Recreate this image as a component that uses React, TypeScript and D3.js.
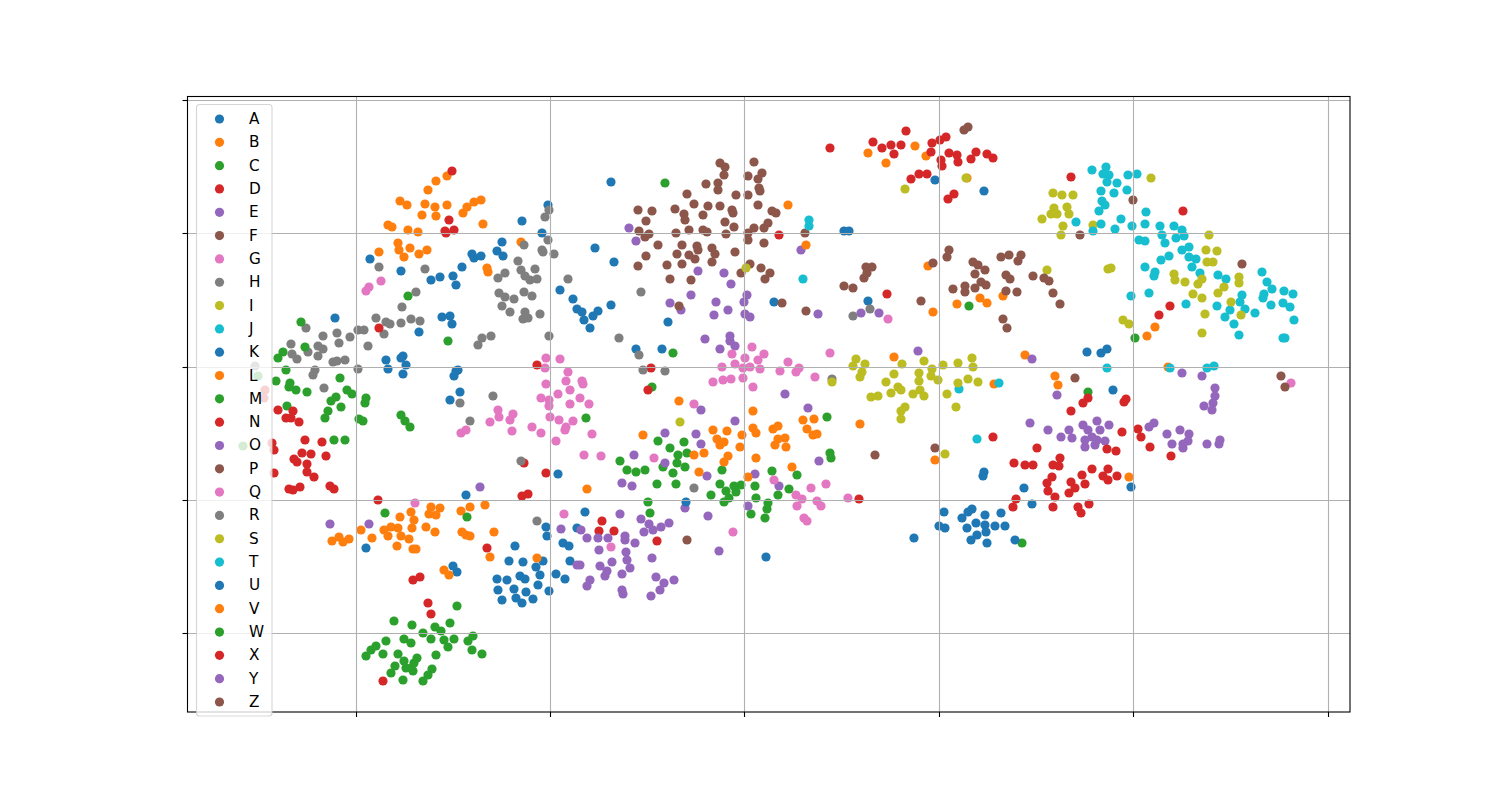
import React from "react";
import * as d3 from "d3";

const A = [[370,259],[401,271],[431,280],[440,277],[453,276],[456,285],[462,267],[472,254],[474,258],[481,256],[497,251],[503,256],[502,242],[522,221],[542,233],[548,205],[560,290],[573,299],[577,309],[582,312],[335,318],[442,317],[450,316],[452,324],[419,332],[611,182],[595,248],[614,262],[611,305],[598,311],[593,316],[584,320],[590,328],[668,322],[774,302],[844,231],[849,231],[868,301],[935,180],[984,191],[636,349],[662,349]];
const B = [[447,176],[436,181],[428,190],[400,201],[407,205],[425,204],[435,207],[447,205],[422,215],[436,216],[467,207],[463,213],[474,202],[481,200],[388,225],[392,227],[408,230],[418,232],[483,224],[398,243],[399,250],[410,248],[427,250],[419,254],[404,257],[379,252],[521,242],[487,268],[488,272],[868,153],[915,146],[886,163],[926,156],[967,178]];
const C = [[658,441],[670,448],[684,442],[678,455],[687,453],[677,463],[685,467],[663,467],[620,461],[627,470],[636,472],[645,470],[673,473],[657,484],[676,484],[827,417],[830,453],[831,458],[722,470],[772,471],[797,475],[720,484],[755,486],[734,486],[741,485],[711,495],[726,491],[736,492],[789,489],[778,495],[756,498],[729,498],[724,502],[648,502],[650,513],[768,503],[767,509],[751,514],[765,518],[586,418],[652,387],[673,353],[969,306],[1135,338],[1088,392],[1022,543],[665,183]];
const D = [[830,148],[873,142],[882,148],[891,145],[901,145],[894,154],[906,131],[932,143],[940,140],[946,137],[931,152],[949,153],[957,155],[941,160],[942,166],[958,162],[971,159],[976,152],[987,154],[993,158],[911,179],[919,174],[927,174],[954,194],[948,199],[779,235],[887,294],[452,171],[449,220],[445,231],[446,233],[454,230],[1071,177],[1183,211],[1170,306],[1159,315]];
const E = [[629,228],[636,241],[801,250],[698,271],[724,273],[731,284],[691,295],[747,295],[670,303],[681,310],[716,302],[744,302],[728,310],[714,315],[745,314],[750,317],[818,314],[861,313],[879,313],[705,339],[730,336],[730,341],[735,346],[720,349],[918,351],[785,394],[701,410],[808,408],[735,421],[665,433],[696,434],[701,444],[634,455],[665,463],[819,461],[755,474],[707,476],[622,483],[632,486],[685,508],[748,506],[620,514],[708,516],[641,519]];
const F = [[720,163],[725,167],[724,175],[754,162],[762,173],[748,176],[758,179],[706,184],[718,183],[718,190],[759,188],[760,191],[687,194],[736,195],[748,195],[694,204],[708,206],[720,206],[758,205],[638,210],[652,211],[675,209],[684,214],[685,220],[703,215],[732,210],[733,213],[772,211],[776,213],[646,221],[725,222],[768,223],[764,228],[734,227],[754,228],[689,230],[703,230],[707,232],[639,231],[649,234],[645,237],[676,233],[726,234],[748,233],[748,240],[805,233],[658,245],[682,245],[697,246],[698,250],[712,248],[764,243],[646,256],[677,254],[689,255],[695,259],[715,254],[735,252],[712,262],[638,266],[667,265],[682,264],[750,264],[761,268],[741,273],[770,273],[765,279],[670,279],[691,280],[679,306]];
const G = [[381,281],[369,287],[366,291],[498,410],[499,417],[513,414],[510,420],[490,422],[512,431],[466,430],[461,433],[415,503],[564,514],[546,358],[560,359],[545,368],[568,372],[566,381],[546,384],[582,381],[583,384],[570,390],[558,394],[541,398],[549,400],[549,406],[570,404],[580,398],[589,404],[550,417],[559,420],[573,421],[566,427],[565,430],[532,427],[541,433],[556,441],[584,455],[592,434],[601,456],[611,547],[654,458]];
const H = [[379,267],[425,269],[416,292],[402,307],[376,318],[386,322],[390,324],[401,323],[411,319],[420,321],[323,336],[337,333],[306,328],[350,337],[358,330],[364,330],[384,334],[339,343],[368,346],[291,344],[318,346],[323,349],[308,352],[292,354],[297,359],[318,356],[333,362],[337,361],[345,360],[358,369],[315,370],[313,375],[324,388],[255,366]];
const I = [[1053,193],[1062,195],[1073,195],[1054,208],[1067,207],[1051,214],[1057,214],[1069,214],[1042,219],[1063,226],[1093,225],[1061,235],[1047,270],[1108,269],[1111,268],[1151,178],[905,189],[966,178],[1123,320],[1129,324]];
const J = [[1092,170],[1106,167],[1103,174],[1109,175],[1128,175],[1137,174],[1107,182],[1117,183],[1101,191],[1114,193],[1127,190],[1102,201],[1105,205],[1099,211],[1146,212],[1076,222],[1101,224],[1121,219],[1093,231],[1115,229],[1132,226],[1145,224],[1160,226],[1174,226],[1182,230],[1162,235],[1176,238],[1184,236],[1139,240],[1145,241],[1165,243],[1182,250],[1189,247],[1189,257],[1196,259],[1169,256],[1161,260],[1192,267],[1145,267],[1155,272],[1154,276],[1200,273],[1218,275],[1226,279],[1262,272],[1267,282],[1272,289],[1264,294],[1263,298],[1284,291],[1293,294],[1242,295],[1240,302],[1283,303],[1271,305],[1290,307],[1245,309],[1217,306],[1186,304],[1149,293],[1131,296],[1230,310],[1225,317],[1255,313],[1234,324],[1294,320],[1239,335],[1283,338],[1285,338],[959,389]];
const K = [[914,538],[944,512],[962,518],[968,512],[972,509],[939,526],[945,528],[976,523],[967,528],[977,535],[971,540],[985,515],[1001,513],[985,525],[995,526],[1005,526],[986,532],[987,543],[1015,540],[984,472],[983,476],[1024,488],[1032,504],[1131,487],[1087,352],[1101,353],[1107,349],[1113,390],[766,557],[386,360],[388,369],[403,356],[401,358],[406,365],[403,374],[458,370],[456,371],[454,376],[460,392],[450,400],[558,474],[466,495]];
const L = [[894,357],[679,401],[753,411],[803,420],[814,419],[713,430],[727,431],[753,428],[756,433],[773,429],[778,426],[807,429],[813,435],[817,434],[860,424],[643,435],[742,435],[717,439],[724,442],[720,445],[778,439],[785,438],[775,445],[786,447],[740,447],[704,453],[694,455],[728,456],[724,462],[756,458],[792,467],[699,472],[748,477],[587,489],[935,460],[788,205],[806,245],[928,266],[933,312],[957,304],[980,298],[987,303],[1003,296],[1025,355],[994,384],[1055,376],[1058,385],[1168,367],[1155,327],[1147,336],[1129,477]];
const M = [[301,322],[305,347],[283,352],[278,358],[286,370],[276,381],[290,383],[289,387],[296,390],[307,392],[340,378],[347,390],[352,394],[366,398],[365,403],[336,397],[331,401],[341,407],[287,406],[328,411],[325,418],[359,419],[363,421],[401,415],[405,421],[410,427],[334,440],[345,440],[448,341],[408,296],[258,376],[243,446]];
const N = [[379,328],[278,410],[293,411],[286,418],[291,418],[299,422],[305,440],[322,442],[302,453],[311,454],[326,456],[294,459],[297,462],[307,464],[307,472],[314,477],[289,489],[293,490],[300,487],[330,486],[334,489],[537,365],[524,463],[546,473],[522,496],[528,494],[378,500],[274,450],[265,390],[264,398],[272,443],[274,473],[651,368],[648,390],[859,499]];
const O = [[1032,359],[1057,395],[1182,373],[1202,376],[1215,388],[1215,396],[1213,403],[1204,406],[1212,410],[1030,423],[1048,430],[1069,430],[1061,437],[1072,438],[1083,425],[1088,430],[1097,421],[1109,425],[1100,430],[1085,440],[1092,437],[1097,440],[1105,441],[1085,447],[1095,445],[1154,423],[1149,427],[1167,434],[1180,430],[1189,434],[1188,441],[1183,444],[1172,444],[1183,448],[1207,444],[1220,440],[1219,444],[779,486]];
const P = [[866,267],[872,267],[867,273],[864,278],[921,301],[933,263],[947,257],[949,250],[973,262],[978,265],[985,270],[975,274],[953,289],[965,286],[965,292],[975,288],[981,282],[986,285],[1001,257],[1009,255],[1021,255],[1018,261],[1006,275],[1010,279],[1033,276],[1044,278],[1049,281],[1006,291],[1017,292],[1053,293],[1060,304],[1003,319],[1007,328]];
const Q = [[752,347],[830,353],[732,354],[764,354],[745,358],[758,360],[735,364],[722,367],[743,368],[750,367],[760,369],[788,362],[780,371],[799,368],[796,372],[713,382],[723,380],[731,379],[743,378],[815,377],[753,387],[694,404],[774,480],[811,488],[826,484],[796,495],[802,499],[817,501],[821,506],[797,506],[848,498],[804,518],[807,521],[733,532],[888,319],[1291,383]];
const R = [[549,210],[545,217],[548,240],[542,250],[543,252],[554,254],[524,245],[518,261],[521,270],[535,269],[505,273],[498,278],[525,276],[530,280],[537,279],[568,279],[499,293],[505,297],[514,299],[524,292],[532,296],[502,306],[510,312],[525,312],[540,314],[523,319],[528,318],[482,338],[491,336],[478,345],[549,336],[493,396],[460,403],[470,421],[521,461],[537,521],[641,292],[619,338],[853,316],[870,309],[639,355],[643,370],[665,371],[832,379],[694,488]];
const S = [[856,359],[865,364],[853,366],[862,372],[860,377],[902,364],[924,361],[943,365],[958,363],[972,358],[973,367],[894,374],[919,373],[932,369],[931,376],[938,380],[919,381],[886,382],[958,383],[968,379],[978,382],[832,382],[898,387],[901,390],[891,393],[920,390],[913,394],[924,396],[947,394],[871,397],[878,396],[905,407],[901,411],[956,407],[901,419],[680,422],[945,454],[746,268],[1209,235],[1206,250],[1217,251],[1207,262],[1213,262],[1174,274],[1175,280],[1185,282],[1198,284],[1202,279],[1239,277],[1239,283],[1224,287],[1218,293],[1193,294],[1202,298],[1231,302],[1241,315],[1205,314],[1202,333]];
const T = [[809,220],[809,226],[803,279],[999,383],[977,439],[1107,368],[1170,368],[1207,368],[1214,366]];
const U = [[546,527],[547,536],[577,528],[585,512],[515,546],[563,543],[569,546],[509,561],[523,562],[543,561],[536,567],[570,561],[540,575],[520,576],[525,579],[497,579],[507,580],[556,574],[565,579],[538,585],[498,590],[514,589],[526,592],[549,591],[516,598],[502,600],[533,599],[522,603],[686,502],[366,548],[453,566],[457,572]];
const V = [[411,512],[431,507],[440,508],[429,514],[436,515],[461,511],[470,507],[485,505],[400,517],[414,520],[412,528],[426,527],[398,528],[391,527],[361,530],[384,530],[388,536],[401,536],[409,539],[435,532],[462,532],[466,535],[470,536],[494,532],[372,538],[339,537],[332,541],[343,542],[349,539],[397,546],[413,549],[416,549],[490,557],[537,558],[444,570],[449,575]];
const W = [[467,517],[385,513],[457,606],[394,621],[412,625],[435,627],[441,631],[450,623],[423,633],[386,641],[404,639],[411,643],[431,639],[444,640],[454,639],[448,647],[473,636],[468,641],[472,650],[482,654],[376,646],[371,650],[366,656],[383,654],[398,654],[436,655],[417,658],[404,661],[414,663],[395,666],[406,668],[411,668],[413,671],[432,669],[428,675],[391,673],[403,680],[423,681]];
const X = [[993,437],[1088,398],[1083,403],[1071,411],[1126,399],[1124,402],[1122,432],[1138,429],[1141,437],[1150,447],[1107,449],[1116,451],[1037,448],[1171,456],[1060,458],[1014,463],[1025,465],[1033,465],[1053,465],[1059,466],[1092,469],[1108,469],[1052,477],[1082,475],[1103,476],[1117,476],[1108,480],[1047,483],[1071,482],[1085,484],[1075,488],[1048,491],[1069,493],[1055,497],[1016,499],[1013,507],[1053,507],[1078,507],[1089,504],[1081,513],[487,548],[420,577],[413,580],[428,603],[431,614],[383,681],[602,521],[599,531],[614,531],[657,541]];
const Y = [[330,524],[369,524],[480,487],[561,529],[581,530],[587,538],[598,538],[608,538],[577,565],[599,550],[625,536],[625,540],[635,543],[626,552],[627,560],[612,562],[652,558],[630,568],[600,566],[607,571],[605,576],[622,574],[590,580],[587,586],[656,577],[674,580],[664,583],[660,590],[622,590],[623,594],[651,596],[719,551],[649,524],[669,523],[661,527],[653,530],[644,532],[580,565]];
const Z = [[1281,376],[1285,387],[1075,378],[1080,235],[1133,200],[1242,264],[875,455],[935,448],[687,540],[964,130],[968,127],[806,311],[782,303],[844,286],[853,288]];

const letters = "ABCDEFGHIJKLMNOPQRSTUVWXYZ".split("");
const series = [A,B,C,D,E,F,G,H,I,J,K,L,M,N,O,P,Q,R,S,T,U,V,W,X,Y,Z];
const xTicks = [355.5,549.8,744.3,938.7,1133,1327.5];
const yTicks = [100,233.3,366.8,500,633.3];
const colors = d3.schemeCategory10;

const left = 187.5, right = 1350, top = 96.5, bottom = 712;
const x = d3.scaleLinear().domain([187.5,1350]).range([left,right]);
const y = d3.scaleLinear().domain([96.5,712]).range([top,bottom]);
const legendRow = d3.scaleLinear().domain([0,25]).range([119,702]);

export default function App() {
  const px = (v: number) => Math.round(v) + 0.5;
  return (
    <svg width={1500} height={800} style={{position:"absolute",left:0,top:0,display:"block",background:"#fff"}}>
      {series.map((pts,i)=>(
        <g key={letters[i]} fill={colors[i%10]}>
          {pts.map((p,j)=><circle key={j} cx={x(p[0])} cy={y(p[1])} r={4.6}/>)}
        </g>
      ))}
      <g stroke="#b0b0b0" strokeWidth={1.1}>
        {xTicks.map(t=><line key={t} x1={px(x(t))} x2={px(x(t))} y1={top} y2={bottom}/>)}
        {yTicks.map(t=><line key={t} x1={left} x2={right} y1={px(y(t))} y2={px(y(t))}/>)}
      </g>
      <g stroke="#000" strokeWidth={1.1}>
        {xTicks.map(t=><line key={t} x1={px(x(t))} x2={px(x(t))} y1={bottom} y2={bottom+5}/>)}
        {yTicks.map(t=><line key={t} x1={left-5} x2={left} y1={px(y(t))} y2={px(y(t))}/>)}
      </g>
      <rect x={left} y={top} width={right-left} height={bottom-top} fill="none" stroke="#000" strokeWidth={1.1}/>
      <rect x={196.5} y={104.5} width={75.5} height={611.5} rx={3} fill="#fff" fillOpacity={0.8} stroke="#ccc" strokeOpacity={0.8} strokeWidth={1.1}/>
      {letters.map((l,i)=>(
        <g key={l}>
          <circle cx={219.5} cy={legendRow(i)} r={4.6} fill={colors[i%10]}/>
          <text x={249} y={legendRow(i)+5} fontFamily="DejaVu Sans" fontSize={15.28} fill="#000">{l}</text>
        </g>
      ))}
    </svg>
  );
}
